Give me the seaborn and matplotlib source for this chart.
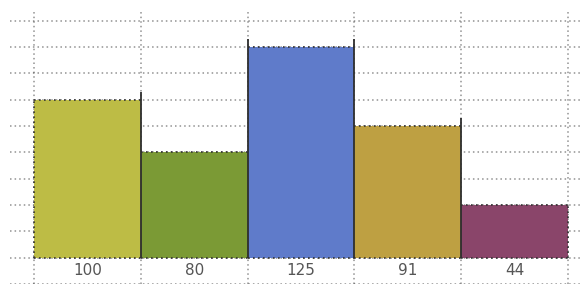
import numpy as np
import pandas as pd
import matplotlib
matplotlib.use("Agg")
import matplotlib.pyplot as plt
import seaborn as sns

# valores (altura en divisiones de la cuadricula)
etiquetas = ["100", "80", "125", "91", "44"]
alturas = [6, 4, 8, 5, 2]
colores = ["#BDBC45", "#7B9A35", "#5F7BCA", "#BEA042", "#8A456A"]

sns.set_style("white")
plt.rcParams["font.family"] = ["DejaVu Sans"]

df = pd.DataFrame({"etiqueta": etiquetas, "altura": alturas})

fig = plt.figure(figsize=(5.84, 2.87), dpi=100)
# eje desde y=10 px hasta y=284 px, x de 10 a 580 px
ax = fig.add_axes([10 / 584, (287 - 284) / 287, 570 / 584, 274 / 287])

sns.barplot(data=df, x="etiqueta", y="altura", hue="etiqueta", palette=colores,
            saturation=1, width=1.0, legend=False, ax=ax, linewidth=0,
            order=etiquetas, zorder=3)

paso = 106.8
ax.set_xlim(-0.5 - 24 / paso, 4.5 + 12 / paso)
ax.set_ylim(-1.0, 9.4)

punteado = (0, (1, 2))
gris = "#4a4a4a"
# cuadricula horizontal punteada (detras de las barras)
for y in range(-1, 10):
    ax.axhline(y, color=gris, lw=1.1, ls=punteado, alpha=0.6, zorder=1)
# cuadricula vertical en los bordes de las barras
for x in np.arange(-0.5, len(etiquetas), 1.0):
    ax.axvline(x, color=gris, lw=1.1, ls=punteado, alpha=0.6, zorder=1)
# borde superior punteado de cada barra
for i, h in enumerate(alturas):
    ax.hlines(h, i - 0.5, i + 0.5, color="#333333", lw=1.2, ls=punteado, zorder=4)
    ax.hlines(0, i - 0.5, i + 0.5, color="#333333", lw=1.2, ls=punteado, zorder=4)
# bordes oscuros entre barras vecinas
for i in range(len(alturas) - 1):
    ax.vlines(i + 0.5, 0, max(alturas[i], alturas[i + 1]) + 0.3, color="#2e2e2e", lw=1.3, zorder=4)
ax.vlines(-0.5, 0, alturas[0], color="#333333", lw=1.2, ls=punteado, zorder=4)
ax.vlines(len(alturas) - 0.5, 0, alturas[-1], color="#333333", lw=1.2, ls=punteado, zorder=4)

# etiquetas en la fila inferior
for i, t in enumerate(etiquetas):
    ax.text(i, -0.5, t, ha="center", va="center", fontsize=11, color="#555555")

ax.set_xticks([])
ax.set_yticks([])
ax.set_xlabel("")
ax.set_ylabel("")
for s in ax.spines.values():
    s.set_visible(False)

fig.savefig("out.png", dpi=100)
